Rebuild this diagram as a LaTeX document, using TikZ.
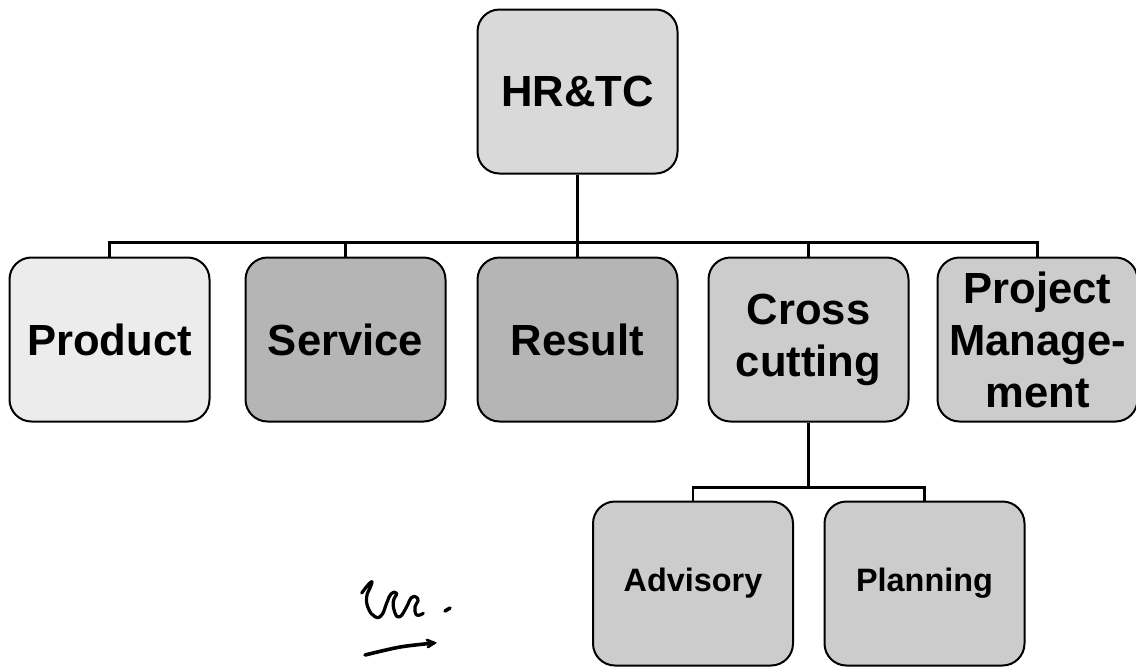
\documentclass[tikz,border=0pt]{standalone}
\usepackage{fontspec}
\setmainfont{Liberation Sans}
\usepackage{tikz}
\usetikzlibrary{positioning}

\begin{document}
\begin{tikzpicture}[
        x=0.5pt, y=-0.5pt,
        node distance=124pt,
        % Node styles
        unit/.style={rectangle, draw=black, line width=1pt, rounded corners=11pt,
                     minimum width=100pt, minimum height=82pt, align=center,
                     font=\bfseries\fontsize{21.8}{26}\selectfont},
        topunit/.style={unit, fill=gray!30},
        lightunit/.style={unit, fill=gray!15},
        darkunit/.style={unit, fill=gray!58},
        midunit/.style={unit, fill=gray!40},
        subunit/.style={unit, fill=gray!40, font=\bfseries\fontsize{16.2}{20}\selectfont},
        link/.style={line width=1.3pt}
    ]
        \useasboundingbox (0,0) rectangle (1136,666);

        % Head of the chart
        \node[topunit] (hrtc) at (577.5,91.5) {HR\&TC};

        % First level
        \node[darkunit, below of=hrtc] (result) {Result};
        \node[darkunit, left of=result, xshift=8pt] (service) {Service};
        \node[lightunit, left of=service, xshift=6pt] (product) {Product};
        \node[midunit, right of=result, xshift=-8.5pt] (cross) {Cross\\cutting};
        \node[midunit, right of=cross, xshift=-9.5pt] (project) {Project\\Manage-\\ment};

        % Second level under cross cutting
        \node[subunit, below of=cross, xshift=-57.75pt, yshift=2pt] (advisory) {Advisory};
        \node[subunit, right of=advisory, xshift=-8.25pt] (planning) {Planning};

        % Lines from the head
        \draw[link] (hrtc.south) -- ++(0,68) coordinate (split);
        \foreach \n in {product,service,result,cross,project}
            \draw[link] (split) -| (\n.north);

        % Lines from cross cutting
        \draw[link] (cross.south) -- ++(0,65) coordinate (subsplit);
        \foreach \n in {advisory,planning}
            \draw[link] (subsplit) -| (\n.north);

        % Handwritten mark
        \draw[line width=1.6pt, line cap=round, line join=round] plot[smooth, tension=0.8] coordinates {
            (361.7,593) (368,585) (372,581.7) (370,588) (366.7,596.7) (368.3,608.3) (375,616.7) (381.7,615)
            (386.7,603) (391,594) (396.7,593.3) (393.3,601.7) (395,613) (400,616.7)
            (406.7,606.7) (411,598) (416,597) (418,601) (415,606.7) (416.7,615) (423.3,613.3)};
        \draw[line width=1.8pt, line cap=round] (445,611) -- (450,608);
        \draw[line width=1.8pt, line cap=round] plot[smooth] coordinates {(365,655) (400,647) (434,643)};
        \draw[line width=1.4pt, line cap=round] (427,640) -- (434,643) -- (428,647);
    \end{tikzpicture}
\end{document}
